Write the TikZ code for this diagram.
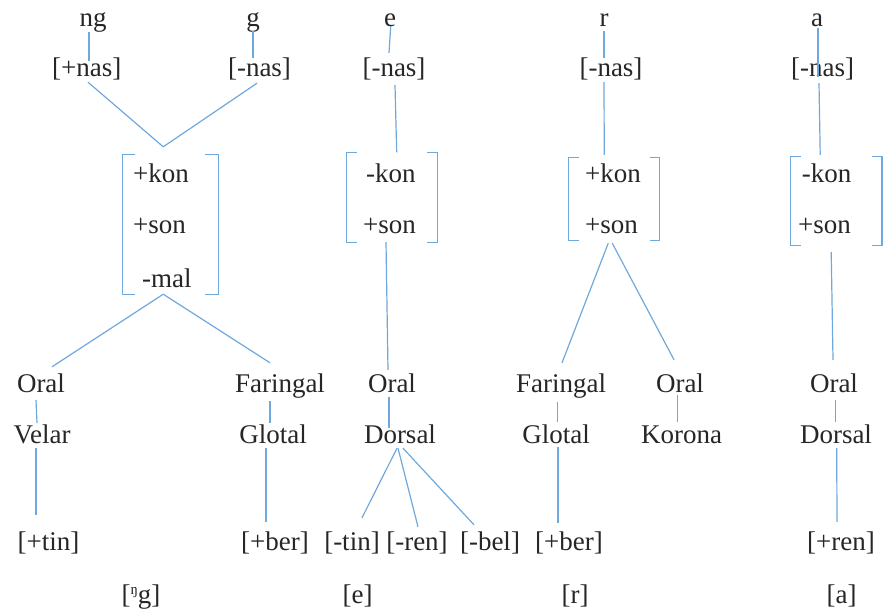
\documentclass[tikz,border=0pt]{standalone}
\usepackage{fontspec}
\setmainfont{Liberation Serif}
\definecolor{inkc}{HTML}{262626}
\definecolor{linkc}{HTML}{6FA8DC}
\tikzset{
  lbl/.style={anchor=base, inner sep=0pt, text height=18pt, text depth=5pt,
    font=\fontsize{27}{30}\selectfont, text=inkc},
  feat/.style={anchor=base west, inner sep=0pt,
    font=\fontsize{27}{30}\selectfont, text=inkc},
  fmbox/.style={inner sep=0pt, draw=none},
  link/.style={draw=linkc, line width=1.2pt},
  brk/.style={draw=linkc, line width=1.2pt}
}
\newcommand{\fmbracket}[2]{%
  \draw[brk] ([xshift=#2]#1.north west) -- (#1.north west) -- (#1.south west) -- ([xshift=#2]#1.south west);
  \draw[brk] ([xshift=-#2]#1.north east) -- (#1.north east) -- (#1.south east) -- ([xshift=-#2]#1.south east);}
\begin{document}
\begin{tikzpicture}[x=1pt,y=-1pt]
\path[use as bounding box] (0,0) rectangle (883,613);

% segments
\node[lbl] (ng) at (93,26) {ng};
\node[lbl] (g)  at (253,26) {g};
\node[lbl] (e)  at (390,26) {e};
\node[lbl] (r)  at (604,26) {r};
\node[lbl] (a)  at (817,26) {a};

% nasality
\node[lbl] (nas1) at (86.7,76) {[+nas]};
\node[lbl] (nas2) at (259.5,76) {[-nas]};
\node[lbl] (nas3) at (394,76) {[-nas]};
\node[lbl] (nas4) at (611,76) {[-nas]};
\node[lbl] (nas5) at (822.7,76) {[-nas]};

% feature matrices
\node[fmbox, minimum width=95.5pt, minimum height=139pt] (fm1) at (170.25,224.5) {};
\node[fmbox, minimum width=90pt, minimum height=89.5pt] (fm2) at (392,197.25) {};
\node[fmbox, minimum width=90.5pt, minimum height=82pt] (fm3) at (614.25,199) {};
\node[fmbox, minimum width=91pt, minimum height=88pt] (fm4) at (836.2,201) {};
\fmbracket{fm1}{13pt}
\fmbracket{fm2}{10pt}
\fmbracket{fm3}{10pt}
\fmbracket{fm4}{10pt}

\node[feat] (kon1) at (133,182) {+kon};
\node[feat] (son1) at (133,233) {+son};
\node[feat] (mal1) at (142,287) {-mal};
\node[feat] (kon2) at (366,182) {-kon};
\node[feat] (son2) at (363,233) {+son};
\node[feat] (kon3) at (585,182) {+kon};
\node[feat] (son3) at (585,233) {+son};
\node[feat] (kon4) at (801.7,182) {-kon};
\node[feat] (son4) at (798,233) {+son};

% place nodes
\node[lbl] (oral1) at (41,392) {Oral};
\node[lbl] (far1)  at (280,392) {Faringal};
\node[lbl] (oral2) at (392,392) {Oral};
\node[lbl] (far2)  at (561,392) {Faringal};
\node[lbl] (oral3) at (680,392) {Oral};
\node[lbl] (oral4) at (834,392) {Oral};

\node[lbl] (velar)  at (42,443) {Velar};
\node[lbl] (glot1)  at (273,443) {Glotal};
\node[lbl] (dors1)  at (400,443) {Dorsal};
\node[lbl] (glot2)  at (556,443) {Glotal};
\node[lbl] (korona) at (681.5,443) {Korona};
\node[lbl] (dors2)  at (836,443) {Dorsal};

% terminal features
\node[lbl] (tin1) at (48.5,550) {[+tin]};
\node[lbl] (ber1) at (275,550) {[+ber]};
\node[lbl] (tin2) at (352,550) {[-tin]};
\node[lbl] (ren1) at (417,550) {[-ren]};
\node[lbl] (bel)  at (490,550) {[-bel]};
\node[lbl] (ber2) at (569,550) {[+ber]};
\node[lbl] (ren2) at (841,550) {[+ren]};

% surface forms
\node[lbl] (out1) at (141,603) {[{\fontsize{15}{15}\selectfont\raisebox{9pt}{ŋ}}g]};
\node[lbl] (out2) at (357.5,603) {[e]};
\node[lbl] (out3) at (575,603) {[r]};
\node[lbl] (out4) at (841.5,603) {[a]};

% junction points of the merged tree
\coordinate (join1) at ([xshift=-7pt,yshift=8pt]fm1.north);
\coordinate (join2) at ([xshift=-7pt]fm1.south);

% ng / g tree
\draw[link] ([xshift=-4pt,yshift=-1pt]ng.south) -- ([xshift=2.3pt,yshift=-3pt]nas1.north);
\draw[link] (g.south) -- ([xshift=-6.5pt]nas2.north);
\draw[link] ([xshift=1.3pt,yshift=-1pt]nas1.south) -- (join1);
\draw[link] ([xshift=-2.5pt,yshift=-2pt]nas2.south) -- (join1);
\draw[link] (join2) -- ([xshift=11pt,yshift=7pt]oral1.north);
\draw[link] (join2) -- ([xshift=-10pt,yshift=11pt]far1.north);
\draw[link] ([xshift=-5pt,yshift=-3pt]oral1.south) -- ([xshift=-5pt,yshift=2pt]velar.north);
\draw[link] ([xshift=-6pt]velar.south) -- ([xshift=-12.5pt,yshift=17pt]tin1.north);
\draw[link] ([xshift=-10pt,yshift=-4pt]far1.south) -- ([xshift=-3pt,yshift=2pt]glot1.north);
\draw[link] ([xshift=-7pt]glot1.south) -- ([xshift=-9pt,yshift=10pt]ber1.north);

% e tree
\draw[link] ([xshift=0.7pt,yshift=5pt]e.south) -- ([xshift=-5pt,yshift=5pt]nas3.north);
\draw[link] ([xshift=1pt,yshift=-4pt]nas3.south) -- ([xshift=4.7pt]fm2.north);
\draw[link] ([xshift=-6pt]fm2.south) -- ([xshift=-4pt,yshift=4pt]oral2.north);
\draw[link] ([xshift=-3pt]oral2.south) -- ([xshift=-11pt,yshift=-3pt]dors1.north);
\draw[link] ([xshift=-3pt]dors1.south) -- ([xshift=10pt,yshift=14pt]tin2.north);
\draw[link] ([xshift=-2pt]dors1.south) -- ([xshift=1pt,yshift=5pt]ren1.north);
\draw[link] ([xshift=3pt]dors1.south) -- ([xshift=-16pt,yshift=7pt]bel.north);

% r tree
\draw[link] (r.south) -- ([xshift=-7pt]nas4.north);
\draw[link] ([xshift=-7pt,yshift=-1pt]nas4.south) -- ([xshift=-10pt,yshift=3pt]fm3.north);
\draw[link] ([xshift=-6pt,yshift=-3pt]fm3.south) -- ([xshift=1pt,yshift=11pt]far2.north);
\draw[link] ([xshift=-2pt,yshift=-3pt]fm3.south) -- ([xshift=-6pt,yshift=14pt]oral3.north);
\draw[link] ([xshift=-2.3pt,yshift=2pt]oral3.south) -- ([xshift=-3.8pt,yshift=3pt]korona.north);
\draw[link] ([xshift=-3.3pt,yshift=-5pt]far2.south) -- ([xshift=1.7pt,yshift=3pt]glot2.north);
\draw[link] ([xshift=2pt,yshift=1pt]glot2.south) -- ([xshift=-11pt,yshift=9pt]ber2.north);

% a tree
\draw[link] ([xshift=1pt,yshift=3pt]a.south) -- ([xshift=-4.7pt,yshift=-19pt]nas5.north);
\draw[link] ([xshift=-3.7pt,yshift=-2pt]nas5.south) -- ([xshift=-16pt,yshift=2pt]fm4.north);
\draw[link] ([xshift=-5pt,yshift=-7pt]fm4.south) -- ([xshift=-1pt,yshift=14pt]oral4.north);
\draw[link] ([xshift=1.7pt,yshift=-3pt]oral4.south) -- ([xshift=-0.3pt,yshift=3pt]dors2.north);
\draw[link] ([xshift=0.7pt]dors2.south) -- ([xshift=-4pt,yshift=10pt]ren2.north);
\end{tikzpicture}
\end{document}
